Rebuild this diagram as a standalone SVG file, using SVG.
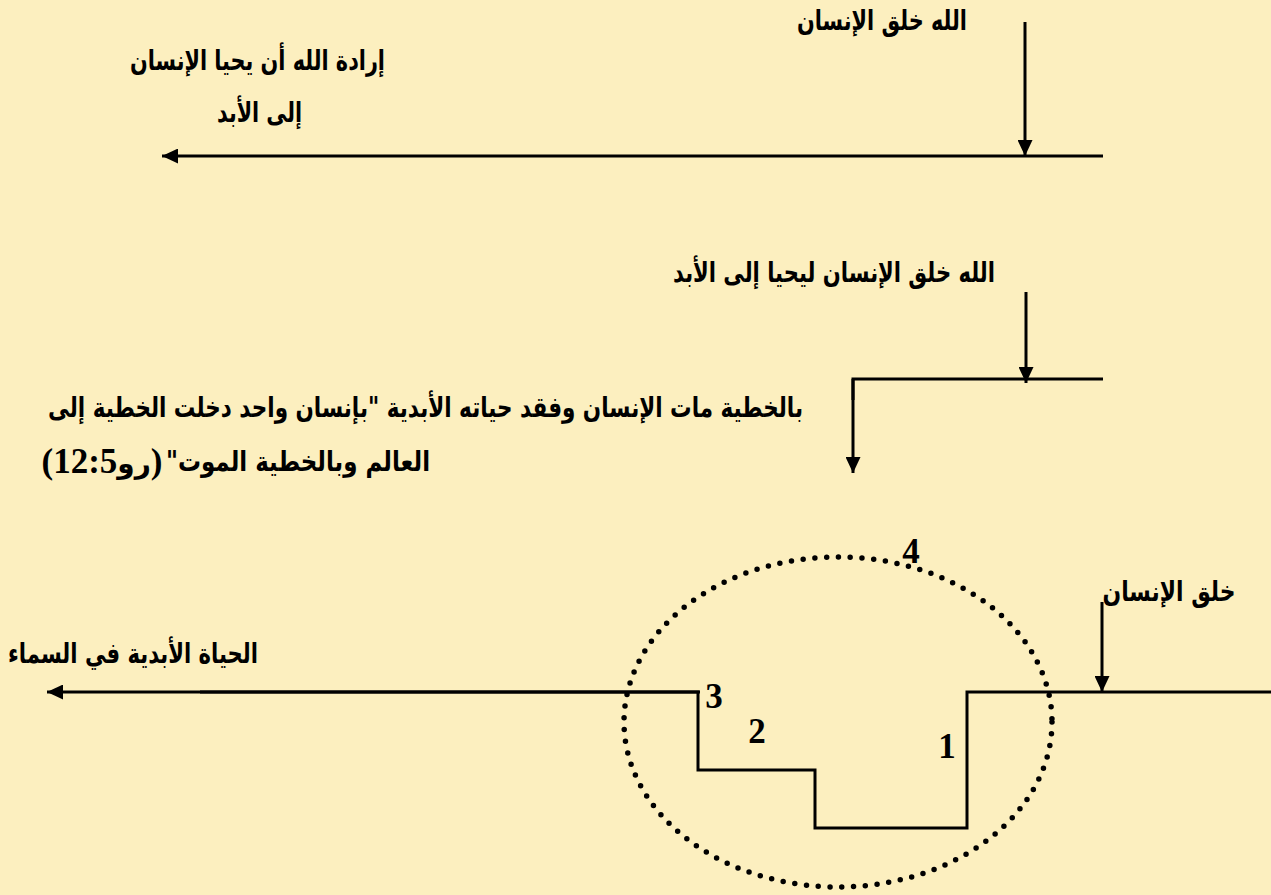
<svg xmlns="http://www.w3.org/2000/svg" width="1271" height="895" viewBox="0 0 1271 895">
<style>
.ar{font-family:"DejaVu Sans","Noto Sans",sans-serif;font-weight:bold;font-size:28px;fill:#000;}
.num{font-family:"Liberation Serif","Times New Roman",serif;font-weight:bold;font-size:35px;fill:#000;}
.ln{stroke:#000;stroke-width:3;fill:none;}
.arr{marker-end:url(#ah);}
</style>
<defs>
<marker id="ah" markerUnits="userSpaceOnUse" markerWidth="16" markerHeight="15" refX="16" refY="7.5" orient="auto">
<path d="M0,0 L16,7.5 L0,15 Z" fill="#000"/>
</marker>
</defs>
<rect x="0" y="0" width="1271" height="895" fill="#FCEFBF"/>

<g id="connectors">
<line class="ln arr" x1="1025" y1="22" x2="1025" y2="156"/>
<line class="ln arr" x1="1103" y1="156" x2="162" y2="156"/>
<line class="ln arr" x1="1026" y1="292" x2="1026" y2="383"/>
<polyline class="ln" points="1103,379 853,379 853,400"/>
<line class="ln arr" x1="853" y1="379" x2="853" y2="473"/>
<line class="ln arr" x1="1102" y1="602" x2="1102" y2="692"/>
<polyline class="ln" points="1271,692 967,692 967,828 815,828 815,770 698,770 698,692 200,692"/>
<line class="ln arr" x1="700" y1="692" x2="47" y2="692"/>
<ellipse cx="838" cy="722" rx="214" ry="165" fill="none" stroke="#000" stroke-width="5.5" stroke-linecap="round" stroke-dasharray="0 11.8"/>
</g>

<g id="n-creation-top">
<text class="ar" direction="rtl" text-anchor="middle" x="882" y="30" textLength="170" lengthAdjust="spacingAndGlyphs">الله خلق الإنسان</text>
</g>
<g id="n-will">
<text class="ar" direction="rtl" text-anchor="middle" x="257.5" y="70" textLength="255" lengthAdjust="spacingAndGlyphs">إرادة الله أن يحيا الإنسان</text>
<text class="ar" direction="rtl" text-anchor="middle" x="259.5" y="122" textLength="85" lengthAdjust="spacingAndGlyphs">إلى الأبد</text>
</g>
<g id="n-creation-mid">
<text class="ar" direction="rtl" text-anchor="middle" x="834" y="282" textLength="322" lengthAdjust="spacingAndGlyphs">الله خلق الإنسان ليحيا إلى الأبد</text>
</g>
<g id="n-sin">
<text class="ar" direction="rtl" text-anchor="middle" x="425.5" y="417" textLength="755" lengthAdjust="spacingAndGlyphs">بالخطية مات الإنسان وفقد حياته الأبدية "بإنسان واحد دخلت الخطية إلى</text>
<text class="ar" direction="rtl" text-anchor="middle" x="298" y="471" textLength="264" lengthAdjust="spacingAndGlyphs">العالم وبالخطية الموت"</text>
<text class="ar" direction="rtl" text-anchor="middle" x="102" y="473"><tspan class="num">(</tspan>رو<tspan class="num">12:5)</tspan></text>
</g>
<g id="n-eternal">
<text class="ar" direction="rtl" text-anchor="middle" x="133" y="663" textLength="250" lengthAdjust="spacingAndGlyphs">الحياة الأبدية في السماء</text>
</g>
<g id="n-creation-bottom">
<text class="ar" direction="rtl" text-anchor="middle" x="1169" y="601" textLength="133" lengthAdjust="spacingAndGlyphs">خلق الإنسان</text>
</g>
<g id="labels">
<text class="num" text-anchor="middle" x="911" y="563">4</text>
<text class="num" text-anchor="middle" x="714" y="708">3</text>
<text class="num" text-anchor="middle" x="757" y="743">2</text>
<text class="num" text-anchor="middle" x="947" y="758">1</text>
</g>
</svg>
